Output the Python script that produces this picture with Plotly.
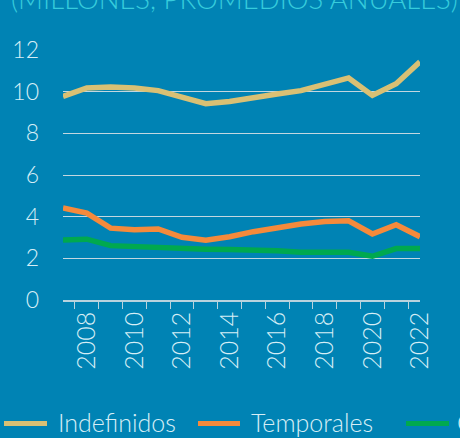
import plotly.graph_objects as go

years = [str(y) for y in range(2007, 2023)]
tick_labels = [y if int(y) % 2 == 0 else "" for y in years]

indefinidos = [9.77, 10.18, 10.22, 10.18, 10.05, 9.73, 9.42, 9.53, 9.73, 9.89, 10.05, 10.37, 10.66, 9.82, 10.38, 11.43]
temporales = [4.42, 4.17, 3.45, 3.37, 3.41, 3.01, 2.87, 3.04, 3.28, 3.49, 3.65, 3.77, 3.80, 3.17, 3.61, 3.04]
terceros = [2.88, 2.92, 2.61, 2.56, 2.48, 2.44, 2.44, 2.42, 2.40, 2.36, 2.29, 2.29, 2.29, 2.10, 2.47, 2.47]

names = ["Indefinidos", "Temporales", "Cuenta propia"]
colors = ["#D9C074", "#F58A3B", "#00A94F"]
series = [indefinidos, temporales, terceros]

BG = "#0083B4"
TXT = "#D6EEF6"
FONT = "Lato"

W, H = 460, 438
ML, MR, MT, MB = 63, 40, 50, 138
PW, PH = W - ML - MR, H - MT - MB


def px_x(p):
    return (p - ML) / PW


def px_y(p):
    return (H - MB - p) / PH


fig = go.Figure()
for n, c, s in zip(names, colors, series):
    fig.add_trace(go.Scatter(x=years, y=s, name=n, mode="lines",
                             line=dict(color=c, width=5.5), showlegend=False))

# custom legend (clipped at right edge like the reference)
leg_sym = [(4, 47), (198, 240), (406, 449)]
leg_txt = [56, 249, 455]
shapes = []
annotations = []
for (a, b), t, n, c in zip(leg_sym, leg_txt, names, colors):
    shapes.append(dict(type="line", xref="paper", yref="paper",
                       x0=px_x(a), x1=px_x(b), y0=px_y(423.5), y1=px_y(423.5),
                       line=dict(color=c, width=5)))
    annotations.append(dict(text=n, xref="paper", yref="paper", x=px_x(t), xanchor="left",
                            y=px_y(422), yanchor="middle", showarrow=False,
                            font=dict(size=25, color=TXT, family=FONT, weight=300)))

annotations.append(dict(text="(MILLONES, PROMEDIOS ANUALES)", xref="paper", yref="paper",
                        x=px_x(9), xanchor="left", y=px_y(16.5), yanchor="bottom",
                        showarrow=False,
                        font=dict(size=27.5, color="#36CCDC", family=FONT, weight=300)))

fig.update_layout(
    width=W, height=H,
    paper_bgcolor=BG, plot_bgcolor=BG,
    margin=dict(l=ML, r=MR, t=MT, b=MB, autoexpand=False),
    font=dict(family=FONT, color=TXT, size=22, weight=300),
    showlegend=False,
    xaxis=dict(type="category", tickmode="array", tickvals=years, ticktext=tick_labels,
               tickson="boundaries", ticks="outside", ticklen=7, tickcolor="#B9D3DE",
               tickangle=-90, showline=True, linecolor="#B9D3DE", linewidth=1.5,
               showgrid=False, zeroline=False, automargin=False,
               tickfont=dict(size=25, color=TXT, family=FONT, weight=300)),
    yaxis=dict(range=[0, 12], tickvals=[0, 2, 4, 6, 8, 10, 12], showgrid=True,
               gridcolor="#C3D7E0", gridwidth=1.3, zeroline=False, showline=False,
               ticks="", ticklabelstandoff=23, automargin=False,
               tickfont=dict(size=23, color=TXT, family=FONT, weight=300)),
    shapes=shapes,
    annotations=annotations,
)

fig.write_html("out.html", config={"displayModeBar": False},
               post_script="document.body.style.margin='0';document.body.style.overflow='hidden';document.body.style.background='" + BG + "';")
